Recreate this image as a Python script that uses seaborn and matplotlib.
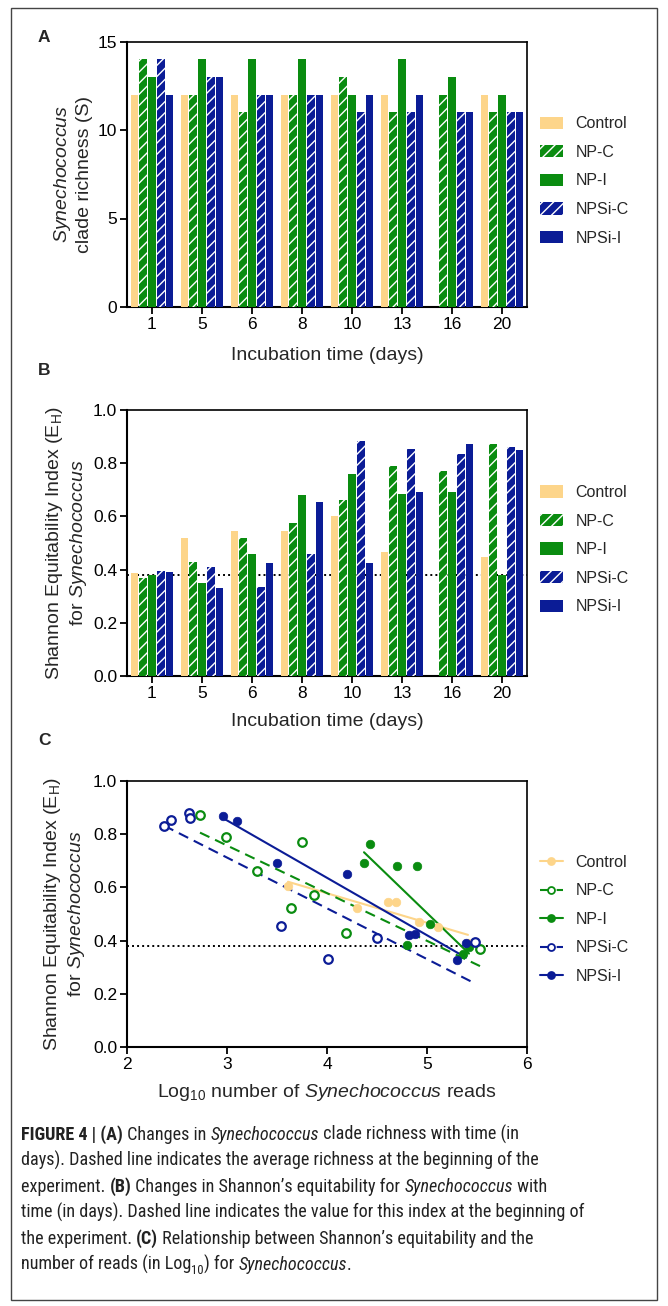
import numpy as np
import pandas as pd
import seaborn as sns
import matplotlib.pyplot as plt
from matplotlib import font_manager
from matplotlib.lines import Line2D
from matplotlib.patches import Patch, Rectangle


days = ['1', '5', '6', '8', '10', '13', '16', '20']
treatments = ['Control', 'NP-C', 'NP-I', 'NPSi-C', 'NPSi-I']

# (A) clade richness
rich_control = [12, 12, 12, 12, 12, 12, np.nan, 12]
rich_npc = [14, 12, 11, 12, 13, 11, 12, 11]
rich_npi = [13, 14, 14, 14, 12, 14, 13, 12]
rich_npsic = [14, 13, 12, 12, 11, 11, 11, 11]
rich_npsii = [12, 13, 12, 12, 12, 12, 11, 11]

# (B) Shannon equitability
eq_control = [0.386, 0.52, 0.544, 0.544, 0.60, 0.467, np.nan, 0.446]
eq_npc = [0.369, 0.43, 0.52, 0.575, 0.66, 0.79, 0.77, 0.871]
eq_npi = [0.38, 0.35, 0.46, 0.68, 0.76, 0.683, 0.69, 0.381]
eq_npsic = [0.394, 0.41, 0.335, 0.457, 0.883, 0.853, 0.833, 0.862]
eq_npsii = [0.39, 0.33, 0.425, 0.654, 0.424, 0.69, 0.871, 0.851]
baseline = 0.38

# (C) log10 reads vs equitability
logr_control = [3.61, 4.30, 4.61, 4.69, 4.92, 5.11, 5.41]
eh_control = [0.604, 0.521, 0.546, 0.546, 0.471, 0.452, 0.390]
logr_npc = [2.73, 2.99, 3.75, 3.30, 3.87, 3.64, 4.19, 5.53]
eh_npc = [0.872, 0.791, 0.771, 0.662, 0.571, 0.521, 0.429, 0.368]
logr_npi = [4.43, 4.37, 4.70, 4.90, 5.03, 4.80, 5.36, 5.42]
eh_npi = [0.762, 0.693, 0.682, 0.682, 0.461, 0.382, 0.351, 0.375]
logr_npsic = [2.37, 2.44, 2.62, 2.63, 3.54, 4.01, 4.50, 5.48]
eh_npsic = [0.831, 0.853, 0.881, 0.860, 0.454, 0.330, 0.410, 0.393]
logr_npsii = [2.96, 3.10, 3.50, 4.20, 4.82, 4.88, 5.30, 5.39]
eh_npsii = [0.870, 0.850, 0.690, 0.651, 0.421, 0.424, 0.328, 0.390]

palette = {'Control': '#FDD58A', 'NP-C': '#0A8C10', 'NP-I': '#0A8C10',
           'NPSi-C': '#0B1C96', 'NPSi-I': '#0B1C96'}
hatched = ['NP-C', 'NPSi-C']

sns.set_style('ticks')
plt.rcParams['font.family'] = ['Liberation Sans', 'DejaVu Sans']
plt.rcParams['mathtext.fontset'] = 'custom'
plt.rcParams['mathtext.rm'] = 'Liberation Sans'
plt.rcParams['mathtext.it'] = 'Liberation Sans:italic'
plt.rcParams['mathtext.bf'] = 'Liberation Sans:bold'
plt.rcParams['hatch.linewidth'] = 1.0

cap_font = 'Roboto'
for cand in ['Liberation Sans Narrow', 'Roboto Condensed', 'Roboto']:
    try:
        font_manager.findfont(cand, fallback_to_default=False)
        cap_font = cand
        break
    except ValueError:
        pass

W, H = 668, 1306
fig = plt.figure(figsize=(W / 100, H / 100), dpi=100)


def px_axes(top, bottom, left=127, right=527):
    return fig.add_axes([left / W, 1 - bottom / H, (right - left) / W, (bottom - top) / H])


def long_form(cols):
    rows = []
    for t, vals in zip(treatments, cols):
        for d, v in zip(days, vals):
            rows.append([d, t, v])
    return pd.DataFrame(rows, columns=['day', 'treatment', 'value'])


def style_axes(ax):
    for side in ['left', 'bottom']:
        ax.spines[side].set_linewidth(1.5)
    for side in ['top', 'right']:
        ax.spines[side].set_linewidth(1.2)
    for s in ax.spines.values():
        s.set_color('black')
    ax.tick_params(length=5, width=1.3, labelsize=12.5, pad=2, colors='black')


def bar_panel(ax, cols):
    data = long_form(cols)
    sns.barplot(data=data, x='day', y='value', hue='treatment', order=days,
                hue_order=treatments, palette=palette, saturation=1,
                width=0.87, gap=0.12, errorbar=None, linewidth=0,
                legend=False, ax=ax, zorder=3)
    for cont, t in zip(ax.containers, treatments):
        if t in hatched:
            for bar in cont:
                bar.set_hatch('///')
                bar.set_edgecolor('white')
                bar.set_linewidth(0)
    handles = [Patch(facecolor=palette[t], edgecolor='white' if t in hatched else palette[t],
                     hatch='///' if t in hatched else None, linewidth=0, label=t)
               for t in treatments]
    ax.legend(handles=handles, loc='center left', bbox_to_anchor=(1.032, 0.475),
              frameon=False, fontsize=11.5, handlelength=1.45, handleheight=0.8,
              handletextpad=0.8, labelspacing=0.85, borderaxespad=0, borderpad=0)
    ax.set_xlabel('Incubation time (days)', fontsize=14)
    style_axes(ax)


# ---- A ----
axA = px_axes(41.5, 307)
bar_panel(axA, [rich_control, rich_npc, rich_npi, rich_npsic, rich_npsii])
axA.set_ylim(0, 15)
axA.set_yticks([0, 5, 10, 15])
axA.set_ylabel('$\\mathit{Synechococcus}$\nclade richness (S)', fontsize=14, linespacing=1.2)
axA.yaxis.set_label_coords(-0.085, 0.5)
axA.xaxis.set_label_coords(0.5, -0.15)

# ---- B ----
axB = px_axes(410, 676)
bar_panel(axB, [eq_control, eq_npc, eq_npi, eq_npsic, eq_npsii])
axB.axhline(baseline, color='black', ls=(0, (1, 1.6)), lw=1.4, zorder=1)
axB.set_ylim(0, 1)
axB.set_yticks(np.arange(0, 1.01, 0.2))
axB.set_yticklabels([f'{v:.1f}' for v in np.arange(0, 1.01, 0.2)])
axB.set_ylabel('Shannon Equitability Index (E$_\\mathrm{H}$)\nfor $\\mathit{Synechococcus}$',
               fontsize=14, linespacing=1.2)
axB.yaxis.set_label_coords(-0.095, 0.5)
axB.xaxis.set_label_coords(0.5, -0.14)

# ---- C ----
axC = px_axes(781, 1047)
axC.axhline(baseline, color='black', ls=(0, (1, 1.6)), lw=1.4, zorder=1)
series = [
    ('Control', logr_control, eh_control, False, '-'),
    ('NP-C', logr_npc, eh_npc, True, (0, (5, 3))),
    ('NP-I', logr_npi, eh_npi, False, '-'),
    ('NPSi-C', logr_npsic, eh_npsic, True, (0, (5, 3))),
    ('NPSi-I', logr_npsii, eh_npsii, False, '-'),
]
legend_handles = []
for name, xs, ys, is_open, ls in series:
    col = palette[name]
    sns.regplot(x=np.array(xs), y=np.array(ys), ax=axC, ci=None, truncate=True,
                color=col,
                scatter_kws=dict(s=38, alpha=1, zorder=4,
                                 facecolors='white' if is_open else col,
                                 edgecolors=col, linewidths=1.6 if is_open else 0.5),
                line_kws=dict(lw=1.5, ls=ls, zorder=3))
    legend_handles.append(Line2D([], [], color=col, ls=ls, lw=1.5, marker='o', markersize=5,
                                 markerfacecolor='white' if is_open else col,
                                 markeredgecolor=col, markeredgewidth=1.3, label=name))
axC.legend(handles=legend_handles, loc='center left', bbox_to_anchor=(1.032, 0.48),
           frameon=False, fontsize=11.5, handlelength=1.45, handletextpad=0.8,
           labelspacing=0.85, borderaxespad=0, borderpad=0)
axC.set_xlim(2, 6)
axC.set_ylim(0, 1)
axC.set_xticks([2, 3, 4, 5, 6])
axC.set_yticks(np.arange(0, 1.01, 0.2))
axC.set_yticklabels([f'{v:.1f}' for v in np.arange(0, 1.01, 0.2)])
axC.set_xlabel('Log$_{10}$ number of $\\mathit{Synechococcus}$ reads', fontsize=14)
axC.set_ylabel('Shannon Equitability Index (E$_\\mathrm{H}$)\nfor $\\mathit{Synechococcus}$',
               fontsize=14, linespacing=1.2)
axC.yaxis.set_label_coords(-0.1, 0.5)
axC.xaxis.set_label_coords(0.5, -0.13)
style_axes(axC)

# panel letters
for letter, ypx in [('A', 38), ('B', 371), ('C', 740)]:
    fig.text(38 / W, 1 - ypx / H, letter, fontsize=12.5, weight='bold', va='center', ha='left')

# frame round figure + caption
fig.add_artist(Rectangle((11 / W, 1 - 1300 / H), 646 / W, 1292 / H, transform=fig.transFigure,
                         fill=False, lw=1, ec='#444444'))

renderer = fig.canvas.get_renderer()


def seg_width(txt, **kw):
    t1 = fig.text(0, 0, '|' + txt + '|', **kw)
    t2 = fig.text(0, 0, '||', **kw)
    w = t1.get_window_extent(renderer).width - t2.get_window_extent(renderer).width
    t1.remove()
    t2.remove()
    return w / W


caption = [
    [('FIGURE 4 | (A)', 'b'), (' Changes in ', 'r'), ('Synechococcus', 'i'),
     (' clade richness with time (in', 'r')],
    [('days). Dashed line indicates the average richness at the beginning of the', 'r')],
    [('experiment. ', 'r'), ('(B)', 'b'), (' Changes in Shannon\u2019s equitability for ', 'r'),
     ('Synechococcus', 'i'), (' with', 'r')],
    [('time (in days). Dashed line indicates the value for this index at the beginning of', 'r')],
    [('the experiment. ', 'r'), ('(C)', 'b'),
     (' Relationship between Shannon\u2019s equitability and the', 'r')],
    [('number of reads (in Log', 'r'), ('10', 's'), (') for ', 'r'), ('Synechococcus', 'i'),
     ('.', 'r')],
]

# size the caption so the longest line spans the same width as in the figure page
longest = seg_width(caption[3][0][0], family=[cap_font, 'DejaVu Sans'], fontsize=10)
cap_size = 10 * (562 / W) / longest

for i, line in enumerate(caption):
    x = 21 / W
    ybase = 1 - (1140 + 26 * i) / H
    for txt, st in line:
        kw = dict(family=[cap_font, 'DejaVu Sans'], fontsize=cap_size, color='#222222',
                  va='baseline', ha='left')
        y = ybase
        if st == 'b':
            kw['weight'] = 'bold'
        elif st == 'i':
            kw['style'] = 'italic'
        elif st == 's':
            kw['fontsize'] = cap_size * 0.7
            y = ybase - 4 / H
        fig.text(x, y, txt, **kw)
        x += seg_width(txt, **kw)

fig.savefig('out.png', dpi=100)
